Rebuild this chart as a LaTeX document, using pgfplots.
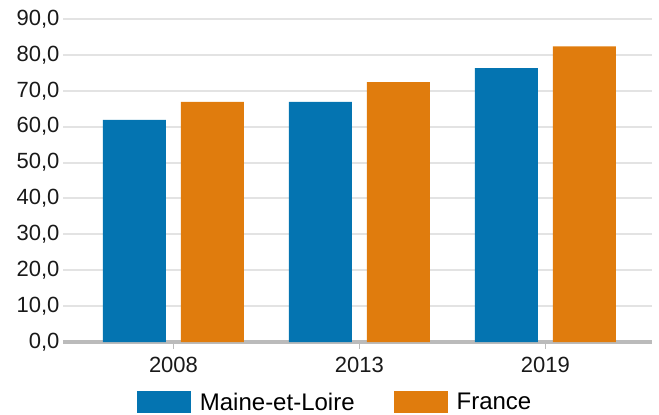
\documentclass[border=0pt]{standalone}
\usepackage{fontspec}
\setmainfont{Liberation Sans}
\usepackage{pgfplots}
\pgfplotsset{compat=1.18}
\definecolor{mblue}{HTML}{0474B1}
\definecolor{morange}{HTML}{E07C0D}
\definecolor{gridgray}{HTML}{E3E3E3}
\definecolor{axisgray}{HTML}{BBBBBB}
\begin{document}
\begin{tikzpicture}
\begin{axis}[
  scale only axis, width=589pt, height=323pt,
  ybar=15pt, bar width=63pt,
  xmin=-0.594, xmax=2.573, ymin=0, ymax=90,
  xtick={0,1,2}, xticklabels={2008,2013,2019},
  ytick={0,10,...,90},
  axis x line*=bottom, axis y line*=left,
  y axis line style={draw=none},
  x axis line style={axisgray, line width=3.5pt},
  ymajorgrids, grid style={gridgray, line width=2pt},
  xtick style={axisgray, line width=1.2pt}, major tick length=7pt,
  xtick align=outside,
  ytick style={draw=none},
  tick label style={font=\fontsize{22}{26}\selectfont, text=black!90},
  xticklabel style={yshift=-5pt},
  /pgf/number format/assume math mode=true,
  yticklabel={\pgfmathprintnumber[fixed, fixed zerofill, precision=1, use comma, 1000 sep={}]{\tick}},
  legend style={at={(0.462,-0.186)}, anchor=center, draw=none, fill=none,
    legend columns=2, font=\fontsize{24}{28}\selectfont,
    /tikz/every odd column/.append style={column sep=7pt},
    /tikz/every even column/.append style={column sep=37pt}},
]
\addplot[fill=mblue, draw=none,
  legend image code/.code={\fill[mblue] (0pt,-11pt) rectangle (54pt,11pt);}]
  coordinates {(0,61.9) (1,66.9) (2,76.3)};
\addlegendentry{Maine-et-Loire}
\addplot[fill=morange, draw=none,
  legend image code/.code={\fill[morange] (0pt,-11pt) rectangle (54pt,11pt);}]
  coordinates {(0,66.9) (1,72.4) (2,82.4)};
\addlegendentry{France}
\end{axis}
\pgfresetboundingbox
\path[use as bounding box] (-63pt,-73pt) rectangle (596pt,342pt);
\end{tikzpicture}
\end{document}
